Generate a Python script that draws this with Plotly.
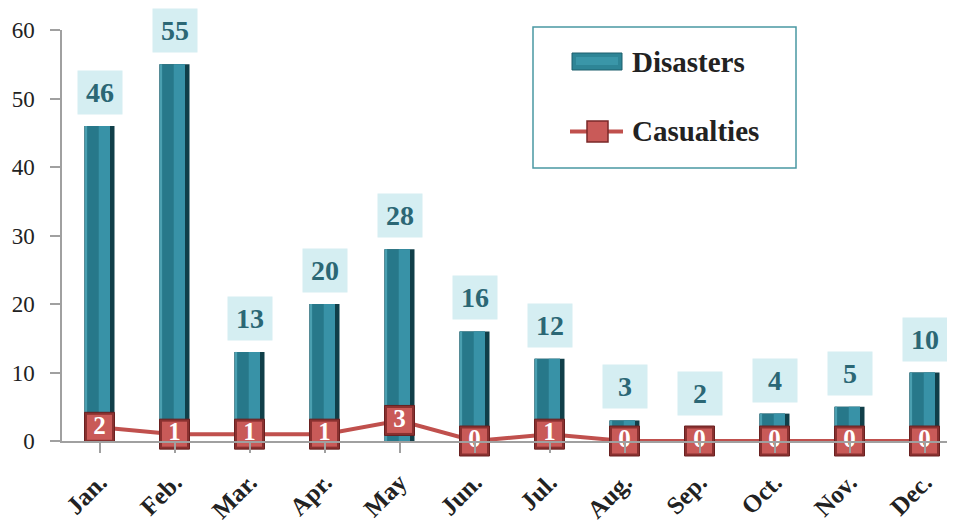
import plotly.graph_objects as go

months = ["Jan.", "Feb.", "Mar.", "Apr.", "May", "Jun.", "Jul.", "Aug.", "Sep.", "Oct.", "Nov.", "Dec."]
disasters = [46, 55, 13, 20, 28, 16, 12, 3, 2, 4, 5, 10]
casualties = [2, 1, 1, 1, 3, 0, 1, 0, 0, 0, 0, 0]
y_ticks = [0, 10, 20, 30, 40, 50, 60]

SERIF = "Liberation Serif, Times New Roman, serif"
xs = list(range(len(months)))

fig = go.Figure()

# bevelled bars built from overlaid layers
fig.add_trace(go.Bar(x=xs, y=disasters, width=0.4, offset=-0.2,
                     marker=dict(color="#103f49", line=dict(width=0)), hoverinfo="skip"))
fig.add_trace(go.Bar(x=xs, y=disasters, width=0.34, offset=-0.2,
                     marker=dict(color="#27788a", line=dict(width=0)), hoverinfo="skip"))
fig.add_trace(go.Bar(x=xs, y=disasters, width=0.15, offset=-0.01,
                     marker=dict(color="#3892a7", line=dict(width=0)), hoverinfo="skip"))
fig.add_trace(go.Bar(x=xs, y=disasters, width=0.02, offset=-0.185,
                     marker=dict(color="#4a9fb0", line=dict(width=0)), hoverinfo="skip"))

# casualties line with bevelled square markers
fig.add_trace(go.Scatter(x=xs, y=casualties, mode="lines+markers",
                         line=dict(color="#c0504d", width=4),
                         marker=dict(symbol="square", size=30, color="#8a3130",
                                     line=dict(color="#6a2020", width=1)),
                         cliponaxis=False, hoverinfo="skip"))
fig.add_trace(go.Scatter(x=xs, y=casualties, mode="markers+text",
                         text=["<b>%d</b>" % v for v in casualties], textposition="middle center",
                         textfont=dict(family=SERIF, size=25, color="white"),
                         marker=dict(symbol="square", size=25, color="#c95a58", line=dict(width=0)),
                         cliponaxis=False, hoverinfo="skip"))

# value labels above bars
for x, v in zip(xs, disasters):
    fig.add_annotation(x=x, y=v, xref="x", yref="y", text="<b>%d</b>" % v,
                       showarrow=False, yanchor="bottom", yshift=11,
                       width=44, height=43, borderpad=0, bgcolor="#d5eef2",
                       font=dict(family=SERIF, size=28, color="#2b6775"))

# page has an 8px body margin; figure sits at (8, 8)
W, H = 955, 525
L, R, T, B = 54, 1, 22, 92
pw, ph = W - L - R, H - T - B
X0, Y0 = 62, 441  # absolute pixel position of plot-area left / bottom
def px(x):
    return (x - X0) / pw
def py(y):
    return (Y0 - y) / ph

# manual legend (paper coordinates)
fig.add_shape(type="rect", xref="paper", yref="paper", x0=px(533), x1=px(796), y0=py(168), y1=py(27),
              line=dict(color="#4a98a3", width=1.5), fillcolor="rgba(0,0,0,0)")
fig.add_shape(type="rect", xref="paper", yref="paper", x0=px(572), x1=px(622), y0=py(70), y1=py(53),
              line=dict(color="#1c5f6c", width=1), fillcolor="#2e8596")
fig.add_shape(type="rect", xref="paper", yref="paper", x0=px(576), x1=px(618), y0=py(65), y1=py(57),
              line=dict(width=0), fillcolor="#3a96a8")
fig.add_shape(type="line", xref="paper", yref="paper", x0=px(570), x1=px(623), y0=py(131.5), y1=py(131.5),
              line=dict(color="#c0504d", width=4))
fig.add_shape(type="rect", xref="paper", yref="paper", x0=px(587), x1=px(608), y0=py(142), y1=py(121),
              line=dict(color="#7a2828", width=1.5), fillcolor="#c95a58")
fig.add_annotation(xref="paper", yref="paper", x=px(630), y=py(62), xanchor="left", yanchor="middle",
                   text="<b>Disasters</b>", showarrow=False,
                   font=dict(family=SERIF, size=29, color="#222222"))
fig.add_annotation(xref="paper", yref="paper", x=px(630), y=py(131), xanchor="left", yanchor="middle",
                   text="<b>Casualties</b>", showarrow=False,
                   font=dict(family=SERIF, size=29, color="#222222"))

fig.update_layout(
    width=W, height=H,
    margin=dict(l=L, r=R, t=T, b=B),
    barmode="overlay",
    showlegend=False,
    plot_bgcolor="white", paper_bgcolor="white",
    xaxis=dict(range=[-0.5, 11.5], tickmode="array", tickvals=xs,
               ticktext=["<b>%s</b>" % m for m in months], tickangle=-45,
               tickfont=dict(family=SERIF, size=25, color="#222222"),
               showgrid=False, showline=True, linecolor="#a0a0a0", linewidth=1.5,
               ticks="outside", ticklen=10, tickcolor="#a0a0a0", tickwidth=1.5,
               tickson="boundaries", ticklabelstandoff=5, zeroline=False, automargin=False),
    yaxis=dict(range=[0, 60], tickmode="array", tickvals=y_ticks,
               tickfont=dict(family=SERIF, size=23, color="#222222"),
               showgrid=False, showline=True, linecolor="#a0a0a0", linewidth=1.5,
               ticks="outside", ticklen=10, tickcolor="#a0a0a0", tickwidth=1.5,
               ticklabelstandoff=11, zeroline=False, automargin=False),
)

fig.write_html("out.html")
